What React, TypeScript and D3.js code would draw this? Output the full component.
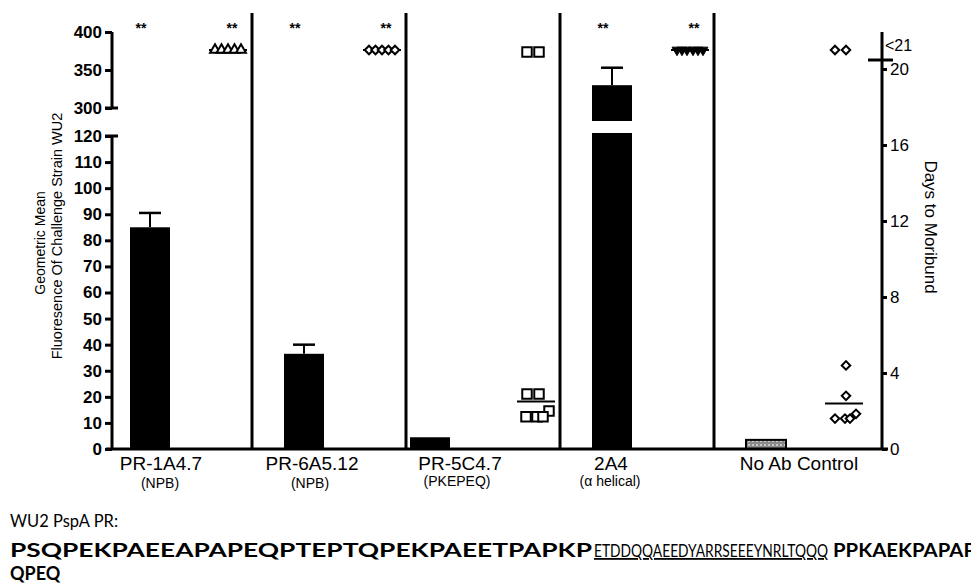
import * as d3 from "d3";
import { useEffect, useRef } from "react";

// groups and their epitope notes
const groups = ["PR-1A4.7", "PR-6A5.12", "PR-5C4.7", "2A4", "No Ab Control"];
const subLabels = ["(NPB)", "(NPB)", "(PKEPEQ)", "(α helical)", ""];

// geometric mean fluorescence (left axis) + SEM
const mfiMean = [85, 36.5, 4.5, 330, 3.5];
const mfiError = [5.5, 3.5, 0, 23, 0];

// days to moribund per mouse (21 = survived)
const daysPR1A = [21, 21, 21, 21, 21];
const daysPR6A = [21, 21, 21, 21, 21];
const daysPR5C = [21, 21, 3, 3, 1.8, 1.8, 2.1, 1.8];
const days2A4 = [21, 21, 21, 21, 21, 21];
const daysNoAb = [21, 21, 4.4, 2.8, 1.6, 1.6, 1.85, 1.6];
const dayMeans = [21, 21, 2.5, 21, 2.4];

// ** markers (bar, scatter)
const stars = [
  [true, true],
  [true, true],
  [false, false],
  [true, true],
  [false, false],
];

const lowTicks = [0, 10, 20, 30, 40, 50, 60, 70, 80, 90, 100, 110, 120];
const highTicks = [300, 350, 400];
const dayTicks = [0, 4, 8, 12, 16, 20];

const seqStart = "PSQPEKPAEEAPAPEQPTEPTQPEKPAEETPAPKP";
const seqEpitope = "ETDDQQAEEDYARRSEEEYNRLTQQQ";
const seqEnd = "PPKAEKPAPAP";
const seqLine2 = "QPEQ";

// layout only
const markerKind = ["triangle", "diamond", "square", "triangle-down", "diamond"];
const jitter = [
  [-13, -6.5, 0, 6.5, 13],
  [-13, -6.5, 0, 6.5, 13],
  [-9, 3, -9, 3, -10, 1, 13, 7],
  [-13, -8, -3, 3, 8, 13],
  [-9, 2, 2, 2, -9, 1, 12, 6],
];
const barShift = [0, 0, -28, 0, 0];
const labelShift = [11, 8, 30, -1, 33];
const subShift = [10, 6, 27, -2, 0];

export default function App() {
  const ref = useRef<SVGSVGElement | null>(null);

  useEffect(() => {
    const svg = d3.select(ref.current);
    svg.selectAll("*").remove();

    const width = 971;
    const height = 584;
    svg.attr("viewBox", `0 0 ${width} ${height}`);

    const font = "Liberation Sans, Arial, sans-serif";
    const x0 = 112;
    const x1 = 882;
    const base = 449;

    const x = d3.scaleBand().domain(groups).range([97, 867]).paddingInner(0);
    const yLow = d3.scaleLinear().domain([0, 120]).range([base, 136]);
    const yHigh = d3.scaleLinear().domain([300, 400]).range([108, 32]);
    const yVal = (v: number) => (v <= 120 ? yLow(v) : yHigh(v));
    const yDays = d3.scaleLinear().domain([0, 20]).range([base, 69]);

    const barW = 40;
    const barCx = (i: number) => (x(groups[i]) as number) + 53 + barShift[i];
    const dotCx = (i: number) => (x(groups[i]) as number) + 131;

    // hatched fill for control bar
    const defs = svg.append("defs");
    const pat = defs
      .append("pattern")
      .attr("id", "hatch")
      .attr("width", 4)
      .attr("height", 4)
      .attr("patternUnits", "userSpaceOnUse");
    pat.append("rect").attr("width", 4).attr("height", 4).attr("fill", "#8c8c8c");
    pat.append("rect").attr("width", 2).attr("height", 2).attr("fill", "#c4c4c4");

    // bars
    groups.forEach((g, i) => {
      const cx = barCx(i);
      const top = yVal(mfiMean[i]);
      svg
        .append("rect")
        .attr("x", cx - barW / 2)
        .attr("y", top)
        .attr("width", barW)
        .attr("height", base - top)
        .attr("fill", i === 4 ? "url(#hatch)" : "#000")
        .attr("stroke", "#000")
        .attr("stroke-width", i === 4 ? 2 : 0);
      if (mfiMean[i] > 120) {
        // axis break gap
        svg
          .append("rect")
          .attr("x", cx - barW / 2 - 1)
          .attr("y", 121)
          .attr("width", barW + 2)
          .attr("height", 12)
          .attr("fill", "#fff");
      }
      if (mfiError[i] > 0) {
        const et = yVal(mfiMean[i] + mfiError[i]);
        svg
          .append("line")
          .attr("x1", cx)
          .attr("x2", cx)
          .attr("y1", top)
          .attr("y2", et)
          .attr("stroke", "#000")
          .attr("stroke-width", 2);
        svg
          .append("line")
          .attr("x1", cx - 11)
          .attr("x2", cx + 11)
          .attr("y1", et)
          .attr("y2", et)
          .attr("stroke", "#000")
          .attr("stroke-width", 2.5);
      }
    });

    // scatter of days
    const dayData = [daysPR1A, daysPR6A, daysPR5C, days2A4, daysNoAb];
    dayData.forEach((arr, i) => {
      const cx = dotCx(i);
      const kind = markerKind[i];
      const ym = yDays(dayMeans[i]);
      svg
        .append("line")
        .attr("x1", cx - 19)
        .attr("x2", cx + 19)
        .attr("y1", ym)
        .attr("y2", ym)
        .attr("stroke", "#000")
        .attr("stroke-width", 2);
      const sym =
        kind === "square"
          ? d3.symbol().type(d3.symbolSquare).size(90)
          : kind === "diamond"
          ? d3.symbol().type(d3.symbolSquare).size(36)
          : d3.symbol().type(d3.symbolTriangle).size(42);
      const rot = kind === "diamond" ? 45 : kind === "triangle-down" ? 180 : 0;
      svg
        .append("g")
        .selectAll("path")
        .data(arr)
        .enter()
        .append("path")
        .attr("d", sym as any)
        .attr(
          "transform",
          (d: number, j: number) =>
            `translate(${cx + jitter[i][j]},${yDays(d) + (kind === "square" ? 2 : 0)}) rotate(${rot})`
        )
        .attr("fill", kind === "triangle-down" ? "#000" : "#fff")
        .attr("stroke", "#000")
        .attr("stroke-width", kind === "triangle-down" ? 1 : 2);
    });

    // stars
    stars.forEach((s, i) => {
      const pos = [barCx(i) - 9, dotCx(i) + 4];
      s.forEach((on, k) => {
        if (!on) return;
        svg
          .append("text")
          .attr("x", pos[k])
          .attr("y", 33)
          .attr("text-anchor", "middle")
          .attr("font-family", font)
          .attr("font-size", 14)
          .attr("font-weight", "bold")
          .text("**");
      });
    });

    // panel dividers
    groups.slice(1).forEach((g) => {
      const xx = (x(g) as number) + 1;
      svg
        .append("line")
        .attr("x1", xx)
        .attr("x2", xx)
        .attr("y1", 13)
        .attr("y2", base)
        .attr("stroke", "#000")
        .attr("stroke-width", 3);
    });

    // baseline
    svg
      .append("line")
      .attr("x1", x0 - 6)
      .attr("x2", x1 + 6)
      .attr("y1", base)
      .attr("y2", base)
      .attr("stroke", "#000")
      .attr("stroke-width", 3);

    // left axis, two segments
    const styleAxis = (g: any, size: number, bold: boolean) => {
      g.select(".domain").remove();
      g.selectAll(".tick line").attr("stroke", "#000").attr("stroke-width", 3);
      g.selectAll(".tick text")
        .attr("font-family", font)
        .attr("font-size", size)
        .attr("font-weight", bold ? "bold" : "normal")
        .attr("fill", "#000");
    };
    const gl = svg
      .append("g")
      .attr("transform", `translate(${x0},0)`)
      .call(d3.axisLeft(yLow).tickValues(lowTicks).tickSize(7).tickPadding(3) as any);
    styleAxis(gl, 17, true);
    const gh = svg
      .append("g")
      .attr("transform", `translate(${x0},0)`)
      .call(
        d3.axisLeft(yHigh).tickValues(highTicks).tickSize(7).tickPadding(3) as any
      );
    styleAxis(gh, 17, true);
    [
      [yLow(0), yLow(120)],
      [yHigh(300), yHigh(400)],
    ].forEach(([a, b]) => {
      svg
        .append("line")
        .attr("x1", x0)
        .attr("x2", x0)
        .attr("y1", a)
        .attr("y2", b)
        .attr("stroke", "#000")
        .attr("stroke-width", 3);
    });
    // segment end caps
    [yLow(120), yHigh(300)].forEach((yy) => {
      svg
        .append("line")
        .attr("x1", x0 - 7)
        .attr("x2", x0 + 6)
        .attr("y1", yy)
        .attr("y2", yy)
        .attr("stroke", "#000")
        .attr("stroke-width", 3);
    });

    // right axis
    svg
      .append("line")
      .attr("x1", x1)
      .attr("x2", x1)
      .attr("y1", base)
      .attr("y2", 32)
      .attr("stroke", "#000")
      .attr("stroke-width", 3);
    const gr = svg
      .append("g")
      .attr("transform", `translate(${x1},0)`)
      .call(d3.axisRight(yDays).tickValues(dayTicks).tickSize(5).tickPadding(3) as any);
    styleAxis(gr, 17, false);
    svg
      .append("line")
      .attr("x1", x1 - 14)
      .attr("x2", x1 + 11)
      .attr("y1", 60)
      .attr("y2", 60)
      .attr("stroke", "#000")
      .attr("stroke-width", 3);
    svg
      .append("text")
      .attr("x", x1 + 3)
      .attr("y", 51)
      .attr("font-family", font)
      .attr("font-size", 16)
      .text("<21");

    // axis titles
    svg
      .append("text")
      .attr("transform", "translate(45,243) rotate(-90)")
      .attr("text-anchor", "middle")
      .attr("font-family", font)
      .attr("font-size", 14)
      .text("Geometric Mean");
    svg
      .append("text")
      .attr("transform", "translate(62,236) rotate(-90)")
      .attr("text-anchor", "middle")
      .attr("font-family", font)
      .attr("font-size", 14.5)
      .text("Fluoresence Of Challenge Strain WU2");
    svg
      .append("text")
      .attr("transform", "translate(925,227) rotate(90)")
      .attr("text-anchor", "middle")
      .attr("font-family", font)
      .attr("font-size", 17)
      .text("Days to Moribund");

    // group labels
    groups.forEach((g, i) => {
      svg
        .append("text")
        .attr("x", barCx(i) + labelShift[i])
        .attr("y", 470)
        .attr("text-anchor", "middle")
        .attr("font-family", font)
        .attr("font-size", 19)
        .text(g);
      if (subLabels[i])
        svg
          .append("text")
          .attr("x", barCx(i) + subShift[i])
          .attr("y", i === 2 || i === 3 ? 486 : 488)
          .attr("text-anchor", "middle")
          .attr("font-family", font)
          .attr("font-size", 14)
          .text(subLabels[i]);
    });

    // sequence block
    const seqFont = "Lato, 'Open Sans', sans-serif";
    svg
      .append("text")
      .attr("x", 10)
      .attr("y", 527)
      .attr("font-family", seqFont)
      .attr("font-size", 18)
      .attr("textLength", 108)
      .attr("lengthAdjust", "spacingAndGlyphs")
      .text("WU2 PspA PR:");
    const seg = [
      { t: seqStart, x: 10, w: 582, bold: true, u: false },
      { t: seqEpitope, x: 594, w: 234, bold: false, u: true },
      { t: seqEnd, x: 833, w: 143, bold: true, u: false },
    ];
    seg.forEach((s) => {
      svg
        .append("text")
        .attr("x", s.x)
        .attr("y", 557)
        .attr("font-family", seqFont)
        .attr("font-size", 18)
        .attr("font-weight", s.bold ? "bold" : "normal")
        .attr("textLength", s.w)
        .attr("lengthAdjust", "spacingAndGlyphs")
        .attr("text-decoration", s.u ? "underline" : "none")
        .text(s.t);
    });
    svg
      .append("text")
      .attr("x", 10)
      .attr("y", 580)
      .attr("font-family", seqFont)
      .attr("font-size", 18)
      .attr("font-weight", "bold")
      .text(seqLine2);
  }, []);

  return (
    <svg
      ref={ref}
      width={971}
      height={584}
      style={{ position: "absolute", left: 0, top: 0, background: "#fff" }}
    />
  );
}
